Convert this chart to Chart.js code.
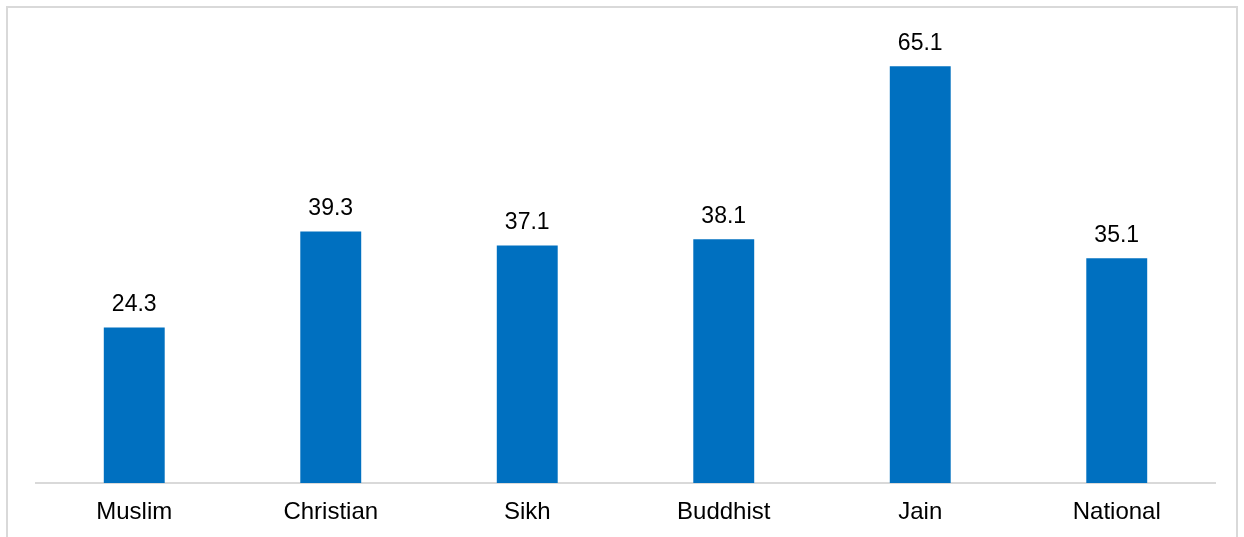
<!DOCTYPE html>
<html>
<head>
<meta charset="utf-8">
<script src="https://cdn.jsdelivr.net/npm/chart.js@4/dist/chart.umd.min.js"></script>
<style>
  body { margin: 0; background: #fff; }
  .frame {
    position: absolute; left: 6px; top: 6px; width: 1232px; height: 600px;
    border: 2px solid #d9d9d9; box-sizing: border-box;
  }
  .wrapper { position: absolute; left: 0; top: 0; width: 1244px; height: 537px; }
</style>
</head>
<body>
<div class="frame"></div>
<div class="wrapper"><canvas id="chart" width="1244" height="537"></canvas></div>
<script>
const categories = ['Muslim', 'Christian', 'Sikh', 'Buddhist', 'Jain', 'National'];
const values = [24.3, 39.3, 37.1, 38.1, 65.1, 35.1];

const FONT = 'Arial, "Liberation Sans", sans-serif';

// value labels above each bar
const barLabels = {
  id: 'barLabels',
  afterDatasetsDraw (chart) {
    const ctx = chart.ctx;
    ctx.save();
    ctx.font = `23px ${FONT}`;
    ctx.fillStyle = '#000';
    ctx.textAlign = 'center';
    ctx.textBaseline = 'alphabetic';
    chart.getDatasetMeta(0).data.forEach((bar, i) => {
      ctx.fillText(values[i].toFixed(1), bar.x, bar.y - 16.5);
    });
    ctx.restore();
  },
};

new Chart(document.getElementById('chart'), {
  type: 'bar',
  data: {
    labels: categories,
    datasets: [{
      data: values,
      backgroundColor: '#0070C0',
      barPercentage: 0.31,
      categoryPercentage: 1,
    }],
  },
  options: {
    responsive: false,
    animation: false,
    layout: { padding: { left: 36, right: 29, top: 35, bottom: 0 } },
    plugins: { legend: { display: false }, tooltip: { enabled: false } },
    scales: {
      y: { display: false, min: 0, max: 70 },
      x: {
        grid: { display: false, drawTicks: false },
        border: { color: '#d9d9d9', width: 2 },
        ticks: { color: '#000', padding: 15, font: { family: FONT, size: 24 } },
        afterFit (scale) { scale.height = 54; },
      },
    },
  },
  plugins: [barLabels],
});
</script>
</body>
</html>
